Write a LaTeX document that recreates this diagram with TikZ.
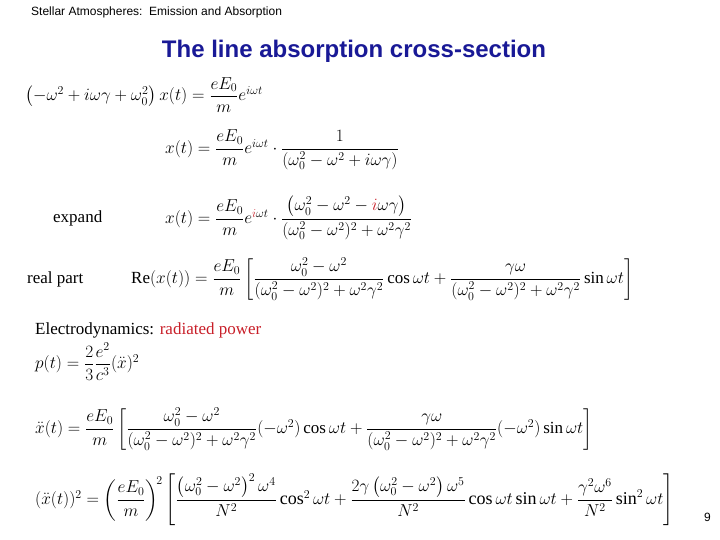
\documentclass[tikz,border=0pt]{standalone}
\usepackage{amsmath}
\usepackage{fontspec}
\setmainfont{Liberation Serif}
\newfontfamily\hsans{Liberation Sans}
\definecolor{ttl}{RGB}{25,25,150}
\definecolor{rd}{RGB}{200,30,40}
\tikzset{eq/.style={anchor=west,inner sep=0pt,font=\fontsize{17}{20}\selectfont},
 lbl/.style={anchor=west,inner sep=0pt,font=\fontsize{17}{20}\selectfont}}
\newcommand{\DEN}{(\omega_0^2-\omega^2)^2+\omega^2\gamma^2}
\begin{document}
\begin{tikzpicture}[x=1pt,y=-1pt]
\useasboundingbox (0,0) rectangle (720,540);
\node[anchor=west,inner sep=0pt,font=\hsans\fontsize{12}{14}\selectfont] (hd) at (31,12) {Stellar Atmospheres:\ \ Emission and Absorption};
\node[inner sep=0pt,font=\hsans\bfseries\fontsize{24}{28}\selectfont,text=ttl] (tt) at (354,51) {The line absorption cross-section};
\node[eq] (e1) at (25,95) {$\left(-\omega^2+i\omega\gamma+\omega_0^2\right)x(t)=\dfrac{eE_0}{m}e^{i\omega t}$};
\node[eq] (e2) at (165,150) {$x(t)=\dfrac{eE_0}{m}e^{i\omega t}\cdot\dfrac{1}{\left(\omega_0^2-\omega^2+i\omega\gamma\right)}$};
\node[lbl] (l3) at (53,218) {expand};
\node[eq] (e3) at (165,218) {$x(t)=\dfrac{eE_0}{m}e^{\textcolor{rd}{i}\omega t}\cdot\dfrac{\left(\omega_0^2-\omega^2-\textcolor{rd}{i}\omega\gamma\right)}{\DEN}$};
\node[lbl] (l4) at (27,279) {real part};
\node[eq] (e4) at (131,279) {$\mathrm{Re}(x(t))=\dfrac{eE_0}{m}\left[\dfrac{\omega_0^2-\omega^2}{\DEN}\cos\omega t+\dfrac{\gamma\omega}{\DEN}\sin\omega t\right]$};
\node[lbl] (l5) at (35,330) {Electrodynamics: \textcolor{rd}{radiated power}};
\node[eq] (e5) at (35,362) {$p(t)=\dfrac{2}{3}\dfrac{e^2}{c^3}(\ddot{x})^2$};
\node[eq] (e6) at (35,429) {$\ddot{x}(t)=\dfrac{eE_0}{m}\left[\dfrac{\omega_0^2-\omega^2}{\DEN}(-\omega^2)\cos\omega t+\dfrac{\gamma\omega}{\DEN}(-\omega^2)\sin\omega t\right]$};
\node[eq,font=\fontsize{18}{21}\selectfont] (e7) at (35,500) {$(\ddot{x}(t))^2=\left(\dfrac{eE_0}{m}\right)^{\!2}\left[\dfrac{\left(\omega_0^2-\omega^2\right)^2\omega^4}{N^2}\cos^2\omega t+\dfrac{2\gamma\left(\omega_0^2-\omega^2\right)\omega^5}{N^2}\cos\omega t\sin\omega t+\dfrac{\gamma^2\omega^6}{N^2}\sin^2\omega t\right]$};
\node[anchor=west,inner sep=0pt,font=\hsans\fontsize{12}{14}\selectfont] (pg) at (704,517) {9};
\end{tikzpicture}
\end{document}
